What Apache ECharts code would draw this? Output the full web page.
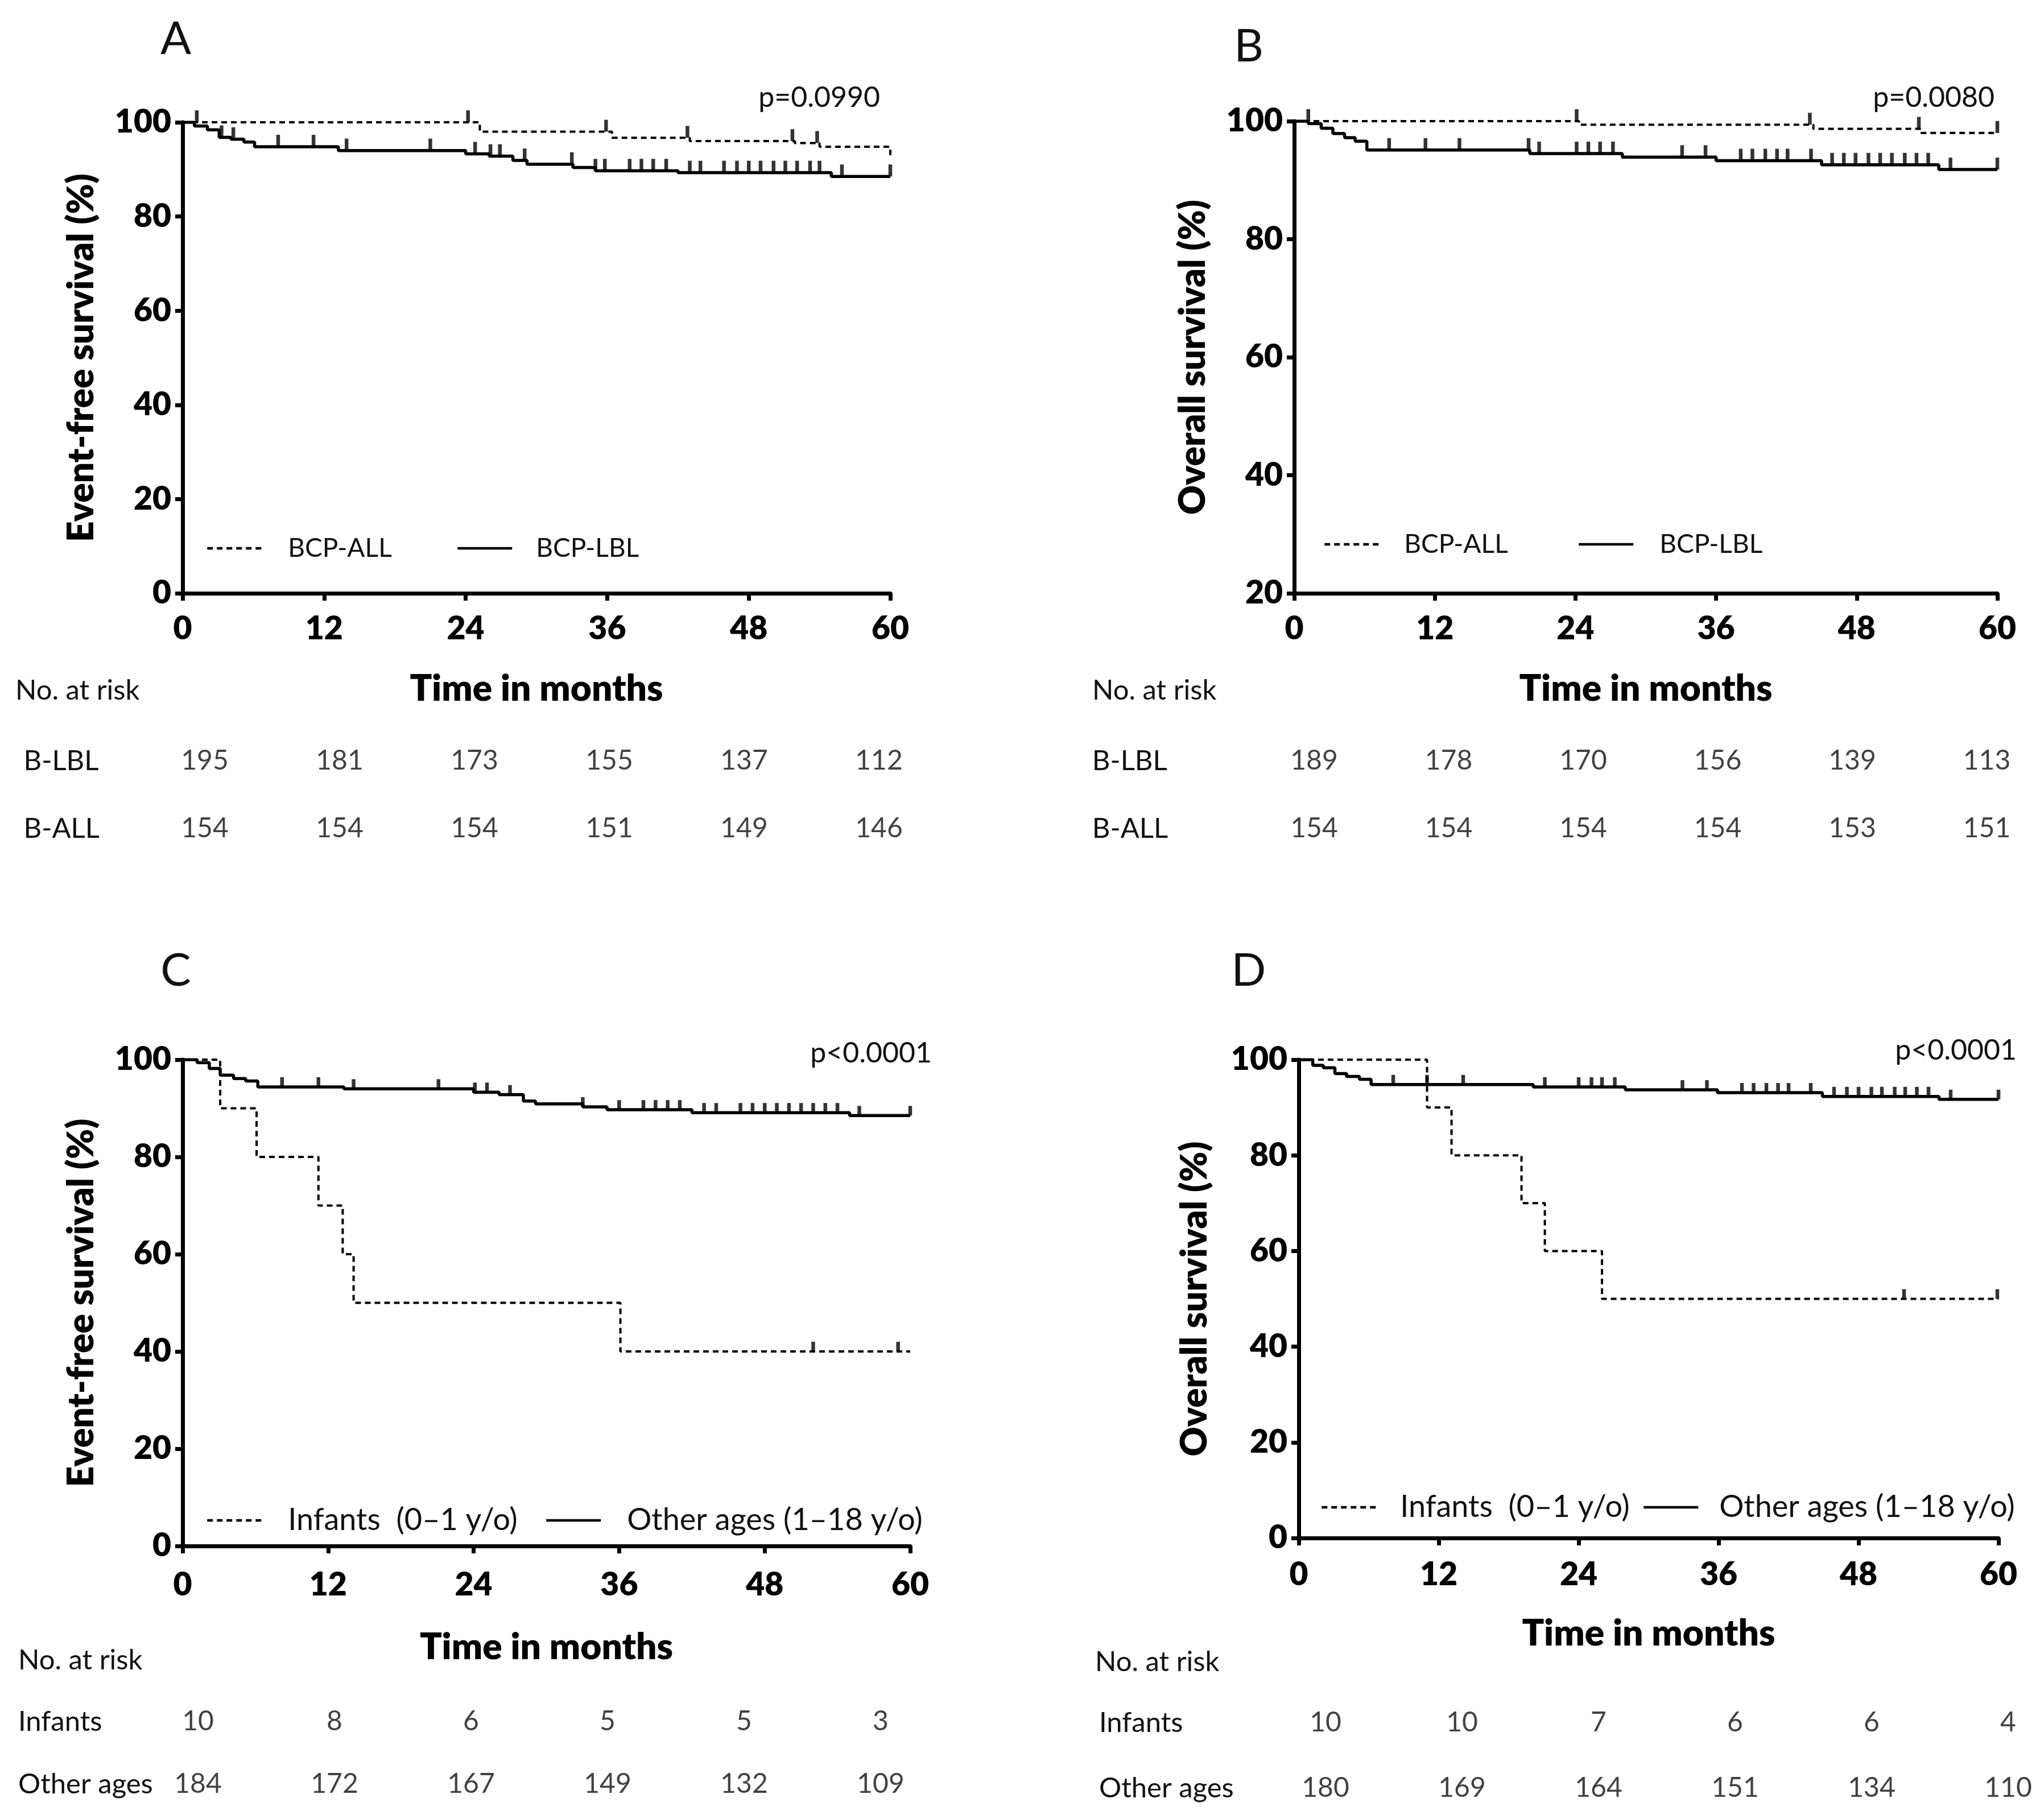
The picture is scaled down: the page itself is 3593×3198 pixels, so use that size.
<!DOCTYPE html>
<html><head><meta charset="utf-8">
<script src="https://cdn.jsdelivr.net/npm/echarts@6/dist/echarts.min.js"></script>
<style>html,body{margin:0;padding:0;background:#fff}#c{width:3593px;height:3198px}</style>
</head><body><div id="c"></div>
<script>
// ---------- DATA ----------
const timeTicks = ['0', '12', '24', '36', '48', '60'];

// Panel A: Event-free survival, BCP-ALL vs BCP-LBL
const A_ALL_t = [0, 25.2, 36.4, 43.0, 51.9, 54.0, 60];
const A_ALL_s = [100, 98.0, 96.7, 96.0, 95.6, 94.8, 92.3];
const A_ALL_cens = [1.2, 24.2, 35.9, 42.8, 51.7, 53.8];
const A_LBL_t = [0, 1.0, 2.1, 3.1, 4.1, 5.2, 6.1, 13.2, 24.0, 26.0, 28.0, 29.2, 33.1, 35.0, 42.0, 55.0, 60];
const A_LBL_s = [100, 99.2, 98.4, 96.8, 96.4, 95.8, 94.8, 94.0, 93.3, 92.8, 91.9, 91.1, 90.4, 89.7, 89.3, 88.5, 88.5];
const A_LBL_cens = [3.3, 4.3, 8.1, 11.1, 13.9, 21.0, 24.8, 26.1, 26.9, 29.0, 33.0, 35.0, 35.8, 37.9, 38.9, 39.9, 41.0, 43.0, 43.9, 45.9, 47.0, 48.0, 49.0, 50.1, 51.1, 52.1, 53.2, 54.0, 55.9, 60];

// Panel B: Overall survival, BCP-ALL vs BCP-LBL
const B_ALL_t = [0, 24.3, 44.3, 53.5, 60];
const B_ALL_s = [100, 99.4, 98.7, 98.0, 98.0];
const B_ALL_cens = [1.2, 24.1, 44.0, 53.3, 60];
const B_LBL_t = [0, 1.2, 2.3, 3.3, 4.3, 5.2, 6.2, 20.1, 28.0, 36.0, 45.0, 55.0, 60];
const B_LBL_s = [100, 99.6, 98.8, 97.9, 97.2, 96.6, 95.1, 94.5, 93.9, 93.3, 92.6, 91.8, 91.8];
const B_LBL_cens = [8.1, 11.2, 14.1, 20.0, 20.9, 24.1, 25.1, 26.1, 27.2, 33.1, 35.1, 38.1, 39.1, 40.2, 41.2, 42.1, 44.1, 45.9, 46.9, 47.9, 49.0, 50.0, 51.0, 52.1, 53.1, 54.1, 56.0, 60];

// Panel C: Event-free survival, Infants vs Other ages
const C_INF_t = [0, 3.1, 6.1, 11.2, 13.2, 14.1, 36.1, 60];
const C_INF_s = [100, 90, 80, 70, 60, 50, 40, 40];
const C_INF_cens = [52.0, 59.0];
const C_OTH_t = [0, 1.2, 2.2, 3.1, 4.2, 5.2, 6.2, 13.3, 24.0, 26.1, 28.1, 29.1, 33.0, 35.0, 42.0, 55.0, 60];
const C_OTH_s = [100, 99.4, 98.2, 96.8, 96.1, 95.6, 94.4, 94.0, 93.3, 92.8, 91.5, 90.9, 90.3, 89.7, 89.1, 88.5, 88.5];
const C_OTH_cens = [8.2, 11.2, 14.1, 21.1, 24.1, 25.1, 27.0, 33.0, 36.0, 38.0, 39.0, 40.0, 41.0, 43.0, 44.0, 46.0, 47.0, 48.0, 49.0, 50.0, 51.0, 52.0, 53.0, 54.0, 55.8, 60];

// Panel D: Overall survival, Infants vs Other ages
const D_INF_t = [0, 11.0, 13.1, 19.1, 21.1, 26.0, 60];
const D_INF_s = [100, 90, 80, 70, 60, 50, 50];
const D_INF_cens = [51.9, 59.9];
const D_OTH_t = [0, 1.2, 2.1, 3.1, 4.1, 5.2, 6.2, 20.1, 28.0, 35.9, 44.9, 54.9, 60];
const D_OTH_s = [100, 98.8, 98.3, 97.1, 96.5, 95.9, 94.8, 94.3, 93.7, 93.1, 92.3, 91.7, 91.7];
const D_OTH_cens = [8.1, 11.0, 14.1, 21.1, 24.0, 25.1, 26.0, 27.1, 32.9, 35.0, 38.0, 39.0, 40.1, 41.1, 42.0, 43.9, 45.9, 47.0, 48.0, 49.1, 50.0, 51.1, 52.0, 53.0, 54.0, 55.9, 60];

// Numbers at risk
const riskAB_rows = ['B-LBL', 'B-ALL'];
const riskA_LBL = [195, 181, 173, 155, 137, 112];
const riskA_ALL = [154, 154, 154, 151, 149, 146];
const riskB_LBL = [189, 178, 170, 156, 139, 113];
const riskB_ALL = [154, 154, 154, 154, 153, 151];
const riskCD_rows = ['Infants', 'Other ages'];
const riskC_INF = [10, 8, 6, 5, 5, 3];
const riskC_OTH = [184, 172, 167, 149, 132, 109];
const riskD_INF = [10, 10, 7, 6, 6, 4];
const riskD_OTH = [180, 169, 164, 151, 134, 110];

const NAME_ALL = 'BCP-ALL', NAME_LBL = 'BCP-LBL';
const NAME_INF = 'Infants  (0\u20131 y/o)', NAME_OTH = 'Other ages (1\u201318 y/o)';

// ---------- HELPERS ----------
const FONT = 'Lato';
const INK = '#000';
const HEAVY = 800;
function stepPairs(ts, ss) { return ts.map((t, i) => [t, ss[i]]); }
function stepAt(t, ts, ss) { let v = ss[0]; for (let i = 0; i < ts.length; i++) { if (ts[i] <= t + 1e-9) v = ss[i]; } return v; }
function censPairs(cs, ts, ss) { return cs.map(c => [c, stepAt(c, ts, ss)]); }

const panels = [
  { grid: {left: 321, top: 215, width: 1244, height: 828}, ymin: 0, yName: 'Event-free survival (%)', yGap: 146, xGap: 136, xMargin: 34, tick: 21,
    curves: [
      {name: NAME_ALL, t: A_ALL_t, s: A_ALL_s, c: A_ALL_cens, dash: true},
      {name: NAME_LBL, t: A_LBL_t, s: A_LBL_s, c: A_LBL_cens, dash: false}] },
  { grid: {left: 2275, top: 213, width: 1236, height: 830}, ymin: 20, yName: 'Overall survival (%)', yGap: 146, xGap: 136, xMargin: 34, tick: 21,
    curves: [
      {name: NAME_ALL, t: B_ALL_t, s: B_ALL_s, c: B_ALL_cens, dash: true},
      {name: NAME_LBL, t: B_LBL_t, s: B_LBL_s, c: B_LBL_cens, dash: false}] },
  { grid: {left: 321, top: 1863, width: 1279, height: 855}, ymin: 0, yName: 'Event-free survival (%)', yGap: 146, xGap: 146, xMargin: 40, tick: 17,
    curves: [
      {name: NAME_INF, t: C_INF_t, s: C_INF_s, c: C_INF_cens, dash: true},
      {name: NAME_OTH, t: C_OTH_t, s: C_OTH_s, c: C_OTH_cens, dash: false}] },
  { grid: {left: 2283, top: 1863, width: 1230, height: 841}, ymin: 0, yName: 'Overall survival (%)', yGap: 151, xGap: 136, xMargin: 36, tick: 17,
    curves: [
      {name: NAME_INF, t: D_INF_t, s: D_INF_s, c: D_INF_cens, dash: true},
      {name: NAME_OTH, t: D_OTH_t, s: D_OTH_s, c: D_OTH_cens, dash: false}] }
];

const riskTables = [
  { grid: {left: 241.5, top: 1278.5, width: 1422, height: 238}, rows: riskAB_rows, vals: [riskA_LBL, riskA_ALL], labelMargin: 200 },
  { grid: {left: 2191.75, top: 1278.5, width: 1419, height: 238}, rows: riskAB_rows, vals: [riskB_LBL, riskB_ALL], labelMargin: 272 },
  { grid: {left: 228, top: 2972, width: 1440, height: 220}, rows: riskCD_rows, vals: [riskC_INF, riskC_OTH], labelMargin: 196 },
  { grid: {left: 2210, top: 2971.5, width: 1440, height: 230}, rows: riskCD_rows, vals: [riskD_INF, riskD_OTH], labelMargin: 278 }
];

const grids = [], xAxes = [], yAxes = [], series = [];
panels.forEach((p, gi) => {
  grids.push(Object.assign({outerBoundsMode: 'none', containLabel: false}, p.grid));
  const axisLine = {show: true, lineStyle: {color: '#000', width: 7}};
  const axisTick = {show: true, inside: false, length: 13, lineStyle: {color: '#000', width: 7}};
  xAxes.push({type: 'value', gridIndex: gi, min: 0, max: 60, interval: 12,
    axisLine, axisTick, splitLine: {show: false},
    axisLabel: {margin: p.xMargin, fontFamily: FONT, fontWeight: HEAVY, fontSize: 57, color: INK},
    name: 'Time in months', nameLocation: 'middle', nameGap: p.xGap,
    nameTextStyle: {fontFamily: FONT, fontWeight: HEAVY, fontSize: 64, color: INK}});
  yAxes.push({type: 'value', gridIndex: gi, min: p.ymin, max: 100, interval: 20,
    axisLine, axisTick, splitLine: {show: false},
    axisLabel: {margin: 20, fontFamily: FONT, fontWeight: HEAVY, fontSize: 57, color: INK},
    name: p.yName, nameLocation: 'middle', nameGap: p.yGap, nameRotate: 90,
    nameTextStyle: {fontFamily: FONT, fontWeight: HEAVY, fontSize: 64, color: INK}});
  p.curves.forEach(cv => {
    series.push({type: 'line', name: cv.name, xAxisIndex: gi, yAxisIndex: gi, step: 'end',
      symbol: 'none', showSymbol: false, silent: true, animation: false,
      lineStyle: {color: '#000', width: cv.dash ? 4 : 5.5, type: cv.dash ? [10, 7] : 'solid'},
      itemStyle: {color: '#000'},
      data: stepPairs(cv.t, cv.s)});
    series.push({type: 'scatter', name: 'censor-' + gi + '-' + cv.name, xAxisIndex: gi, yAxisIndex: gi,
      symbol: 'rect', symbolSize: [6.5, p.tick], symbolOffset: [0, -p.tick / 2], silent: true, animation: false,
      itemStyle: {color: '#000'}, data: censPairs(cv.c, cv.t, cv.s)});
  });
});

riskTables.forEach((r, k) => {
  const gi = panels.length + k;
  grids.push(Object.assign({outerBoundsMode: 'none', containLabel: false}, r.grid));
  xAxes.push({type: 'category', gridIndex: gi, data: timeTicks, boundaryGap: true, show: false});
  yAxes.push({type: 'category', gridIndex: gi, data: r.rows, inverse: true, boundaryGap: true,
    axisLine: {show: false}, axisTick: {show: false}, splitLine: {show: false},
    axisLabel: {align: 'left', margin: r.labelMargin, fontFamily: FONT, fontSize: 49, color: '#111'}});
  const data = [];
  r.vals.forEach((row, ri) => row.forEach((v, ci) => data.push([ci, ri, v])));
  series.push({type: 'scatter', xAxisIndex: gi, yAxisIndex: gi, symbolSize: 1, silent: true, animation: false,
    itemStyle: {color: 'rgba(0,0,0,0)'},
    label: {show: true, position: 'inside', formatter: q => String(q.value[2]), fontFamily: FONT, fontSize: 48, color: '#111'},
    data});
});

function leg(name, left, cy, pad, size) {
  return {data: [name], left: left, top: cy - 10, itemWidth: 96, itemHeight: 20, selectedMode: false,
    padding: 0, itemStyle: {opacity: 0, borderWidth: 0},
    lineStyle: {width: 4.5},
    textStyle: {fontFamily: FONT, fontSize: size, color: '#111', padding: [0, 0, 0, pad]}};
}
const legends = [
  leg(NAME_ALL, 362, 951, 41, 46), leg(NAME_LBL, 802, 951, 37, 46),
  leg(NAME_ALL, 2326, 944, 39, 46), leg(NAME_LBL, 2773, 944, 41, 46),
  leg(NAME_INF, 362, 2656, 41, 54), leg(NAME_OTH, 958, 2656, 41, 54),
  leg(NAME_INF, 2321, 2633, 37, 54), leg(NAME_OTH, 2887, 2633, 32, 54)
];

function txt(x, y, text, size, align, weight) {
  return {type: 'text', x: x, y: y, silent: true,
    style: {text: text, fontFamily: FONT, fontSize: size, fontWeight: weight || 'normal', fill: '#111', align: align, verticalAlign: 'middle'}};
}
const graphics = [
  txt(309, 69, 'A', 80, 'center'), txt(2195, 82, 'B', 80, 'center'),
  txt(309, 1707, 'C', 80, 'center'), txt(2195, 1707, 'D', 80, 'center'),
  txt(1547, 172, 'p=0.0990', 50, 'right'), txt(3506, 172, 'p=0.0080', 50, 'right'),
  txt(1638, 1852, 'p<0.0001', 50, 'right'), txt(3545, 1847, 'p<0.0001', 50, 'right'),
  txt(27, 1214, 'No. at risk', 49, 'left'), txt(1920, 1214, 'No. at risk', 49, 'left'),
  txt(32, 2919, 'No. at risk', 49, 'left'), txt(1925, 2922, 'No. at risk', 49, 'left')
];

const chart = echarts.init(document.getElementById('c'), null, {renderer: 'canvas'});
chart.setOption({
  backgroundColor: '#fff', animation: false,
  grid: grids, xAxis: xAxes, yAxis: yAxes, series: series,
  legend: legends, graphic: graphics
});
</script></body></html>
